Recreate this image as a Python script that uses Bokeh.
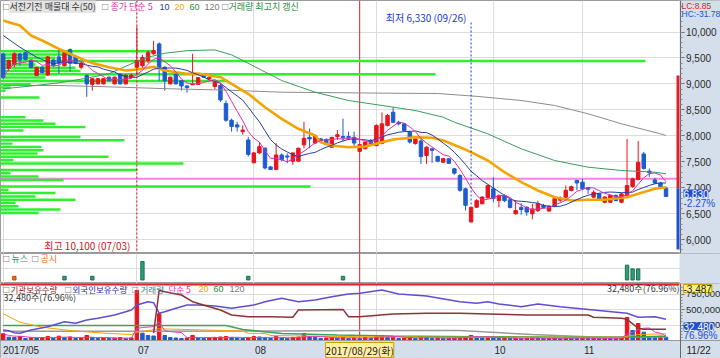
import numpy as np
import pandas as pd
from bokeh.plotting import figure
from bokeh.models import Range1d, FixedTicker, NumeralTickFormatter, Span, Label, Grid
from bokeh.layouts import column
from bokeh.embed import file_html
from bokeh.resources import INLINE

# ------------------------------------------------------------------ data
open_ = [9575, 9300, 9380, 9575, 9600, 9460, 9160, 9320, 9170, 9460,
         9520, 9350, 9660, 9530, 9320, 9160, 8990, 9000, 9000, 9130,
         9000, 9190, 9000, 9130, 9320, 9350, 9450, 9580, 9770, 9320,
         9000, 9190, 9060, 8960, 8990, 8990, 9190, 9100, 8950, 8970,
         8620, 8300, 8210, 8080, 7920, 7480, 7670, 7760, 7400, 7350,
         7630, 7610, 7510, 7510, 7825, 7970, 7860, 7940, 7930, 7780,
         7985, 7985, 7985, 7970, 7700, 7750, 7910, 7810, 7850, 8200,
         8455, 8260, 8230, 8070, 7850, 7900, 7620, 7750, 7600, 7490,
         7556, 7364, 7235, 6978, 6340, 6624, 6690, 6805, 6978, 6753,
         6850, 6766, 6497, 6620, 6624, 6497, 6560, 6657, 6550, 6640,
         6760, 6817, 6946, 7140, 7107, 7000, 6817, 6882, 6720, 6720,
         6850, 6720, 6850, 7023, 7160, 7650, 7320, 7150, 7090, 6990]
high = [9600, 9470, 9610, 9600, 9620, 9470, 9330, 9340, 9540, 9480,
        9650, 9640, 9680, 9560, 9420, 9180, 9110, 9110, 9110, 9140,
        9140, 9200, 9180, 9200, 10100, 9560, 9640, 9830, 9800, 9340,
        9140, 9200, 9070, 8970, 9580, 9130, 9200, 9140, 9050, 9000,
        8680, 8330, 8270, 8200, 7980, 7690, 7880, 7780, 7420, 7860,
        7660, 7660, 7680, 7770, 8270, 8140, 8010, 7960, 7950, 7980,
        8110, 8330, 8080, 8080, 7830, 7890, 7940, 8220, 8450, 8420,
        8550, 8290, 8250, 8100, 7960, 7950, 7800, 7760, 7620, 7570,
        7570, 7380, 7260, 7000, 6640, 6780, 6830, 7060, 7200, 6870,
        6870, 6780, 6760, 6700, 6640, 6690, 6750, 6690, 6660, 6800,
        6830, 7040, 7040, 7150, 7170, 7010, 6950, 6900, 6830, 6860,
        6870, 6900, 7940, 7190, 7900, 7690, 7370, 7190, 7110, 7020]
low = [9090, 9250, 9320, 9350, 9450, 9300, 9150, 9200, 9150, 9330,
       9200, 9340, 9240, 9380, 9280, 8750, 8870, 8990, 8990, 9050,
       8990, 8990, 8990, 9100, 9160, 9300, 9400, 9560, 9060, 8870,
       8990, 8990, 8870, 8830, 8980, 8980, 9120, 9090, 8900, 8650,
       8270, 8080, 8080, 8020, 7600, 7470, 7650, 7350, 7340, 7340,
       7510, 7470, 7440, 7500, 7760, 7760, 7840, 7890, 7820, 7770,
       7920, 7890, 7920, 7800, 7690, 7740, 7800, 7800, 7840, 8180,
       8250, 8200, 8090, 7850, 7830, 7460, 7460, 7480, 7490, 7480,
       7460, 7250, 6920, 6560, 6330, 6610, 6680, 6790, 6720, 6620,
       6720, 6600, 6480, 6480, 6460, 6390, 6530, 6600, 6540, 6620,
       6720, 6800, 6930, 6950, 6950, 6880, 6800, 6750, 6700, 6710,
       6740, 6700, 6830, 7000, 7140, 7350, 7210, 7070, 6990, 6820]
close_ = [9130, 9450, 9580, 9460, 9470, 9320, 9320, 9220, 9520, 9350,
          9400, 9600, 9400, 9400, 9400, 9000, 9100, 9100, 9100, 9060,
          9130, 9000, 9170, 9170, 9450, 9510, 9600, 9640, 9320, 9060,
          9130, 9000, 8960, 8930, 9000, 9120, 9130, 9130, 9030, 8690,
          8300, 8180, 8170, 8110, 7640, 7670, 7790, 7380, 7350, 7630,
          7540, 7590, 7670, 7760, 7950, 7940, 8000, 7900, 7830, 7970,
          8020, 7960, 7980, 7860, 7830, 7880, 7830, 8200, 8230, 8390,
          8260, 8230, 8100, 7880, 7940, 7600, 7780, 7720, 7510, 7560,
          7470, 7280, 6950, 6660, 6620, 6750, 6820, 7040, 6790, 6850,
          6750, 6620, 6560, 6580, 6530, 6590, 6690, 6620, 6640, 6790,
          6800, 6950, 7020, 7090, 6980, 6970, 6910, 6770, 6820, 6850,
          6750, 6880, 7040, 7170, 7490, 7370, 7290, 7090, 6990, 6830]
volume = [67210, 33150, 29840, 40120, 20530, 30480, 25110, 29960, 40870, 20340,
          43120, 30210, 35480, 19870, 25330, 50120, 30560, 20110, 24890, 19760,
          25210, 30080, 20450, 25170, 501230, 73110, 50240, 45130, 267350, 50110,
          30220, 24880, 20140, 25310, 50470, 30120, 20380, 25160, 30050, 35210,
          40160, 30280, 25090, 20140, 30320, 40210, 35080, 30150, 20310, 40280,
          25060, 20180, 30240, 35110, 70230, 40150, 30090, 20260, 25140, 30020,
          25310, 35140, 20080, 25260, 20150, 30070, 25220, 50180, 50340, 30110,
          40060, 20230, 25150, 30080, 20170, 35040, 30190, 20110, 25060, 20320,
          25080, 30160, 35210, 40120, 50260, 30140, 25030, 35110, 30250, 20080,
          25170, 20060, 25240, 20130, 25080, 30160, 25020, 20110, 20250, 25060,
          20140, 30050, 25180, 20090, 25210, 20060, 25140, 20080, 25110, 20030,
          20170, 30060, 230140, 100250, 170080, 83060, 40120, 30210, 42200, 32480]

ma10_head_idx = [0, 3, 6]
ma10_head_val = [9933, 9707, 9514]
ma20_idx = [0, 1, 3, 5, 7, 10, 12, 14, 16, 19, 22, 25, 27, 29, 31, 33, 35, 39, 41, 44, 47, 50, 53,
            56, 57, 59, 62, 65, 68, 70, 74, 77, 79, 82, 84, 87, 90, 93, 96, 99, 102, 105, 108,
            112, 114, 117, 119]
ma20_val = [10220, 10190, 10125, 9933, 9836, 9676, 9580, 9484, 9400, 9322, 9258, 9290, 9330, 9260,
            9225, 9195, 9200, 9129, 9002, 8809, 8551, 8327, 8135, 8006, 7876, 7813, 7780, 7794,
            7876, 7928, 7973, 7961, 7909, 7780, 7684, 7524, 7298, 7106, 6946, 6817, 6753, 6767,
            6767, 6817, 6882, 6978, 7009]
ma60_idx = [0, 5, 10, 15, 19, 23, 26, 29, 33, 38, 41, 43, 50, 56, 62, 68, 74, 79, 81, 87, 93, 99,
            105, 111, 117, 119]
ma60_val = [8905, 8960, 9020, 9110, 9195, 9387, 9514, 9590, 9640, 9655, 9560, 9451, 9065, 8840,
            8680, 8584, 8487, 8358, 8262, 8038, 7749, 7524, 7395, 7331, 7298, 7268]
ma120_idx = [0, 10, 20, 30, 40, 50, 60, 70, 78, 85, 93, 99, 105, 111, 118, 119]
ma120_val = [8969, 8969, 8940, 8905, 8880, 8840, 8830, 8820, 8815, 8760, 8680, 8584, 8424, 8231,
             8038, 8006]

# volume profile (매물대, 50 bins): bin price and relative traded volume
profile_price = [9630, 9566, 9503, 9439, 9376, 9312, 9248, 9185, 9121, 9058, 8994, 8931, 8867,
                 8740, 8358, 8295, 8231, 8167, 8104, 7977, 7913, 7849, 7786, 7722, 7659, 7595,
                 7532, 7468, 7341, 7277, 7214, 7150, 7023, 6959, 6896, 6832, 6768, 6705, 6641,
                 6578, 6514]
profile_volume = [155, 70, 55, 645, 35, 75, 80, 435, 45, 227, 30, 10, 5,
                  39, 25, 43, 55, 85, 23, 80, 124, 12, 41, 43, 37, 108,
                  13, 183, 137, 10, 38, 63, 310, 8, 55, 35, 75, 15, 18,
                  60, 38]
ref_price = 7170

# 기관 / 외국인 보유수량 (shares)
foreign_idx = [0, 1, 2, 3, 5, 8, 11, 13, 15, 17, 20, 22, 23, 24, 26, 27, 28, 29, 31, 33, 35, 38,
               41, 45, 47, 50, 53, 56, 59, 62, 64, 68, 71, 76, 82, 85, 87, 89, 93, 96, 100, 106,
               112, 114, 117, 119]
foreign_val = [169000, 158000, 126000, 116000, 169000, 223000, 303000, 277000, 331000, 358000,
               411000, 464000, 492000, 573000, 626000, 610000, 439000, 464000, 519000, 573000,
               573000, 556000, 519000, 573000, 626000, 681000, 626000, 653000, 706000, 750000,
               761000, 815000, 750000, 718000, 626000, 600000, 626000, 589000, 545000, 589000,
               545000, 492000, 439000, 374000, 384000, 342000]
inst_idx = [27, 28, 29, 32, 34, 37, 39, 41, 44, 48, 52, 53, 61, 62, 64, 70, 76, 82, 87, 94, 100,
            105, 106, 111, 112, 114, 115, 119]
inst_val = [120000, 810000, 787000, 734000, 626000, 545000, 492000, 411000, 384000, 384000,
            374000, 492000, 502000, 384000, 384000, 427000, 440000, 440000, 427000, 411000,
            411000, 411000, 374000, 360000, 342000, 197000, 181000, 181000]

# volume moving averages
vma20_idx = [0, 3, 7, 12, 18, 23, 24, 28, 35, 43, 44, 47, 48, 60, 80, 111, 112, 114, 119]
vma20_val = [267000, 183000, 133000, 100000, 73000, 60000, 83000, 117000, 107000, 95000, 72000,
             70000, 50000, 40000, 33000, 33000, 43000, 60000, 67000]
vma60_idx = [0, 40, 43, 50, 60, 70, 85, 105, 111, 112, 119]
vma60_val = [150000, 150000, 110000, 70000, 55000, 45000, 38000, 33000, 33000, 36000, 42000]
vma120_idx = [0, 24, 50, 64, 82, 95, 106, 119]
vma120_val = [93000, 93000, 95000, 100000, 100000, 60000, 35000, 35000]

# news / disclosures
news_idx = [11, 16, 25, 44, 61, 112, 113, 114]
news_count = [1, 1, 5, 1, 1, 4, 3, 3]
disc_idx = [2]
disc_count = [1]

month_start_idx = [0, 24, 45, 67, 88, 104]
month_labels = ["2017/05", "07", "08", "09", "10", "11"]
cursor_idx = 64
cursor_label = "2017/08/29(화)"
last_date_label = "11/22"
price_ticks = [6000, 6500, 7000, 7500, 8000, 8500, 9000, 9500, 10000]
hold_ticks = [250000, 500000, 750000]

# ------------------------------------------------------------------ style / layout helpers
RED = "#e8141c"
BLUE = "#1d5bd0"
PANEL = "#d5dfeb"
GRID = "#dcdcdc"
OUTLINE = "#9a9a9a"
KR = "Noto Sans CJK KR"
NUM = "Liberation Sans"
W = 720
X0, DX = 2.7, 5.57


def xpx(px):
    return (px - X0) / DX


def ypx1(py):
    return 10000 - (py - 31.5) * 19.27


def ypx2(py):
    return 7.16 - (py - 253) * (8.11 / 30)


HOLD_PER_PX = 919355 / 57


def ypx3(py):
    return (340 - py) * HOLD_PER_PX


def lab(fig, px, y, text, color="#333333", size="9px", font=KR, align="left",
        bg=None, border=None):
    l = Label(x=xpx(px), y=y, text=text, text_color=color, text_font_size=size,
              text_font=font, text_align=align, text_baseline="middle")
    if bg is not None:
        l.background_fill_color = bg
    if border is not None:
        l.border_line_color = border
    fig.add_layout(l)


def prep(fig, yticks=None):
    for g in fig.xgrid:
        g.visible = False
    for g in fig.ygrid:
        g.visible = False
    fig.add_layout(Grid(dimension=0, ticker=FixedTicker(ticks=month_start_idx),
                        grid_line_color=GRID))
    if yticks is not None:
        fig.add_layout(Grid(dimension=1, ticker=FixedTicker(ticks=yticks), grid_line_color=GRID))


def style_raxis(ax, ticks, minor, size):
    ax.fixed_location = xpx(679.5)
    ax.ticker = FixedTicker(ticks=ticks, minor_ticks=minor)
    ax.formatter = NumeralTickFormatter(format="0,0")
    ax.major_label_text_font = NUM
    ax.major_label_text_font_size = size
    ax.major_label_text_color = "#2a2a2a"
    ax.major_tick_out = 4
    ax.major_tick_in = 0
    ax.minor_tick_out = 2
    ax.minor_tick_in = 0
    ax.major_label_standoff = 2
    ax.axis_line_color = "#6a6a6a"
    ax.major_tick_line_color = "#6a6a6a"
    ax.minor_tick_line_color = "#8a8a8a"


def new_fig(height, y_range, x_loc=None, y_loc=None):
    return figure(width=W, height=height, x_range=xr, y_range=y_range,
                  output_backend="svg", toolbar_location=None, x_axis_location=x_loc,
                  y_axis_location=y_loc, min_border=0, min_border_left=0, min_border_right=0,
                  min_border_top=0, min_border_bottom=0, background_fill_color="white",
                  border_fill_color=PANEL, outline_line_color=OUTLINE)


def right_panel(fig, y0, y1):
    fig.quad(left=xpx(679), right=xpx(W + 2), bottom=y0, top=y1,
             fill_color=PANEL, line_color=None)


N = len(close_)
idx = np.arange(N)
o = np.array(open_, float)
h = np.array(high, float)
l_ = np.array(low, float)
c = np.array(close_, float)
cand_color = np.where(c >= o, RED, BLUE).tolist()
vol = np.array(volume, float)
vol_color = [RED] + [RED if vol[i] >= vol[i - 1] else BLUE for i in range(1, N)]

xr = Range1d(xpx(0), xpx(W))

# ------------------------------------------------------------------ price panel
p1 = new_fig(253, Range1d(ypx1(253), ypx1(0)), y_loc="right")
prep(p1, price_ticks)
style_raxis(p1.yaxis[0], price_ticks, list(range(5800, 10700, 100)), "10px")

p1.hbar(y=profile_price, height=48, left=xr.start,
        right=[xr.start + v / DX for v in profile_volume],
        fill_color="#2ef02e", line_color=None)
p1.add_layout(Span(location=ref_price, dimension="width", line_color="#f284e8",
                   line_width=2, level="underlay"))

body_top = np.maximum(o, c)
body_bot = np.minimum(o, c)
body_bot = np.where(body_top - body_bot < 18, body_top - 18, body_bot)
p1.segment(idx, h, idx, l_, color=cand_color, line_width=1)
p1.vbar(x=idx, top=body_top, bottom=body_bot, width=0.62, fill_color=cand_color,
        line_color=cand_color, line_width=1)

ma5 = pd.Series(c).rolling(5, min_periods=1).mean()
ma10 = pd.Series(c).rolling(10).mean()
ma10_x = list(ma10_head_idx) + list(idx[9:])
ma10_y = list(ma10_head_val) + list(ma10.values[9:])
p1.line(ma120_idx, ma120_val, line_color="#8c8c8c", line_width=1)
p1.line(ma60_idx, ma60_val, line_color="#3a9d5d", line_width=1)
p1.line(ma20_idx, ma20_val, line_color="#f5a300", line_width=2.6)
p1.line(ma10_x, ma10_y, line_color="#23409e", line_width=1)
p1.line(idx, ma5, line_color="#dd2fb0", line_width=1)

imax = int(np.argmax(h))
imin = int(np.argmin(l_))
p1.add_layout(Span(location=imax, dimension="height", line_color="#c8141c",
                   line_dash="2 2", line_width=1))
p1.segment([imin], [ypx1(22)], [imin], [h[imin]], line_color="#1a3cc8",
           line_dash="2 2", line_width=1)
p1.add_layout(Span(location=cursor_idx, dimension="height", line_color="#e0202a",
                   line_width=1, level="underlay"))

right_panel(p1, ypx1(260), ypx1(-5))
p1.segment([xpx(677.5)], [ypx1(75)], [xpx(677.5)], [c[-2]], line_color="#e0202a", line_width=3)
p1.segment([xpx(677.5)], [c[-2]], [xpx(677.5)], [ypx1(249)], line_color="#2050d0", line_width=3)

lab(p1, 130, ypx1(245), "최고 10,100 (07/03)", color="#d0141c", size="10px", align="right")
lab(p1, 466, ypx1(17), "최저 6,330 (09/26)", color="#1a3cc8", size="10px", align="right")

# legend row
lab(p1, 2, ypx1(6), "□", color="#888888", size="8px", font="DejaVu Sans")
lab(p1, 9, ypx1(6), "서전기전 매물대 수(50)", color="#333333", bg="#e4e4e4")
lab(p1, 101, ypx1(6), "□", color="#888888", size="8px", font="DejaVu Sans")
lab(p1, 110, ypx1(6), "종가 단순 5", color="#dd2fb0")
lab(p1, 159, ypx1(6), "10", color="#23409e", font=NUM)
lab(p1, 174, ypx1(6), "20", color="#f5a300", font=NUM)
lab(p1, 189, ypx1(6), "60", color="#1f8a40", font=NUM)
lab(p1, 204, ypx1(6), "120", color="#777777", font=NUM)
lab(p1, 221, ypx1(6), "□", color="#888888", size="8px", font="DejaVu Sans")
lab(p1, 228, ypx1(6), "거래량 최고치 갱신", color="#1f8a40")

# right-panel annotations
lab(p1, 681, ypx1(5), "LC:8.85", color="#e0202a", size="8.5px", font=NUM)
lab(p1, 681, ypx1(13.5), "HC:-31.78", color="#2050d0", size="8.5px", font=NUM)
lab(p1, 683, ypx1(193), f"{int(c[-1]):,}", color="white", size="10px", font=NUM,
    bg="#2050d0")
lab(p1, 683, ypx1(202.5), "-2.27%", color="#2050d0", size="10px", font=NUM)

# ------------------------------------------------------------------ news panel
p2 = new_fig(30, Range1d(ypx2(283), ypx2(253)))
prep(p2, [ypx2(268)])
p2.vbar(x=news_idx, top=news_count, bottom=0, width=0.6, fill_color="#2f9e7a",
        line_color="#1c6e52")
p2.vbar(x=disc_idx, top=disc_count, bottom=0, width=0.6, fill_color="#f06a18",
        line_color="#c04a08")
p2.add_layout(Span(location=cursor_idx, dimension="height", line_color="#e0202a",
                   line_width=1, level="underlay"))
right_panel(p2, ypx2(290), ypx2(245))
lab(p2, 2, ypx2(258), "□", color="#888888", size="8px", font="DejaVu Sans")
lab(p2, 11, ypx2(258), "뉴스", color="#2e9a6e")
lab(p2, 31, ypx2(258), "□", color="#888888", size="8px", font="DejaVu Sans")
lab(p2, 40, ypx2(258), "공시", color="#e8701e")

# ------------------------------------------------------------------ holdings / volume panel
p3 = new_fig(75, Range1d(ypx3(358), ypx3(283)), x_loc="below", y_loc="right")
prep(p3, hold_ticks)
style_raxis(p3.yaxis[0], hold_ticks, list(range(50000, 900000, 50000)), "9.5px")
xa = p3.xaxis[0]
xa.fixed_location = ypx3(340)
# month labels sit just right of each month's first candle
label_pos = [m + 1.2 for m in month_start_idx]
label_pos[0] = xpx(20.5)
xa.ticker = FixedTicker(ticks=label_pos)
xa.major_label_overrides = {k: v for k, v in zip(label_pos, month_labels)}
xa.major_label_text_font = NUM
xa.major_label_text_font_size = "10px"
xa.major_label_text_color = "#2a2a2a"
xa.major_tick_out = 0
xa.major_tick_in = 0
xa.minor_tick_out = 0
xa.minor_tick_in = 0
xa.major_label_standoff = 4
xa.axis_line_color = OUTLINE

p3.extra_y_ranges = {"vol": Range1d(-18 * 10000, 57 * 10000)}
p3.add_layout(Span(location=cursor_idx, dimension="height", line_color="#e0202a",
                   line_width=1, level="underlay"))
p3.vbar(x=idx, top=vol, bottom=0, width=0.62, fill_color=vol_color, line_color=vol_color,
        y_range_name="vol")
vma5 = pd.Series(vol).rolling(5, min_periods=1).mean()
p3.line(vma120_idx, vma120_val, line_color="#9a9a9a", line_width=1.5, y_range_name="vol")
p3.line(vma60_idx, vma60_val, line_color="#3aa35a", line_width=1.5, y_range_name="vol")
p3.line(vma20_idx, vma20_val, line_color="#f5a300", line_width=1, y_range_name="vol")
p3.line(idx, vma5, line_color="#e040c0", line_width=1, y_range_name="vol")
p3.line(foreign_idx, foreign_val, line_color="#5f4fcf", line_width=1.5)
p3.line(inst_idx, inst_val, line_color="#8a3535", line_width=1.5)
p3.segment([xr.start], [ypx3(284)], [xpx(679)], [ypx3(284)], line_color="#e0202a",
           line_width=2)
# bottom date band and right value column
p3.quad(left=xr.start, right=xr.end, bottom=ypx3(360), top=ypx3(340),
        fill_color=PANEL, line_color=None)
right_panel(p3, ypx3(360), ypx3(280))

lab(p3, 2, ypx3(288.5), "□", color="#888888", size="8px", font="DejaVu Sans")
lab(p3, 10, ypx3(288.5), "기관보유수량", color="#8b2a2a", size="8.5px")
lab(p3, 64, ypx3(288.5), "□", color="#888888", size="8px", font="DejaVu Sans")
lab(p3, 72, ypx3(288.5), "외국인보유수량", color="#2a2a9c", size="8.5px")
lab(p3, 131, ypx3(288.5), "□", color="#888888", size="8px", font="DejaVu Sans")
lab(p3, 140, ypx3(288.5), "거래량", color="#2a8c8c", size="8.5px")
lab(p3, 168, ypx3(288.5), "단순 5", color="#dd2fb0", size="8.5px")
lab(p3, 198, ypx3(288.5), "20", color="#f5a300", font=NUM)
lab(p3, 213, ypx3(288.5), "60", color="#1f8a40", font=NUM)
lab(p3, 229, ypx3(288.5), "120", color="#777777", font=NUM)
lab(p3, 3, ypx3(297), "32,480주(76.96%)", color="#333333")
lab(p3, 679, ypx3(288), "32,480주(76.96%)", color="#333333", align="right")
lab(p3, 683, ypx3(288), "-3,487", color="#222222", size="10px", font=NUM,
    bg="#fff27a", border="#c8a000")
lab(p3, 683, ypx3(326), "32,480", color="white", size="10px", font=NUM, bg="#2050d0")
lab(p3, 683, ypx3(335), "76.96%", color="#2050d0", size="10px", font=NUM)
lab(p3, 2.7 + DX * cursor_idx, ypx3(349.5), cursor_label, color="#222222", size="10px",
    align="center", bg="#fff0a0", border="#c8a000")
lab(p3, 686, ypx3(349.5), last_date_label, color="#222222", size="10px", font=NUM)

layout = column(p1, p2, p3, spacing=0)
open("out.html", "w").write(file_html(layout, INLINE))
